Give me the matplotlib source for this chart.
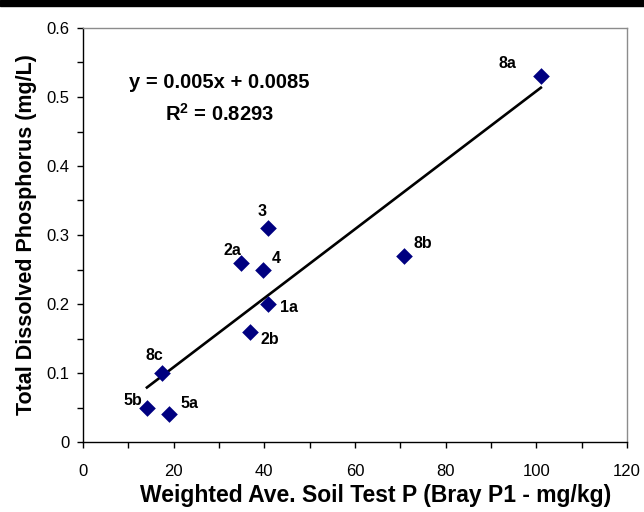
import matplotlib
matplotlib.use("Agg")
import matplotlib.pyplot as plt
from matplotlib.ticker import MultipleLocator
from matplotlib.patches import Rectangle

plt.rcParams['font.family'] = ['Liberation Sans', 'DejaVu Sans']
plt.rcParams['mathtext.fontset'] = 'custom'
plt.rcParams['mathtext.rm'] = 'Liberation Sans'
plt.rcParams['mathtext.bf'] = 'Liberation Sans:bold'

# Data
site_labels = ["3", "2a", "4", "1a", "2b", "8c", "5b", "5a", "8b", "8a"]
soil_test_p = [40.7, 34.8, 39.8, 40.7, 36.9, 17.5, 14.1, 19.0, 70.7, 101.0]
tdp = [0.31, 0.26, 0.25, 0.20, 0.16, 0.10, 0.05, 0.04, 0.27, 0.53]
slope = 0.005
intercept = 0.0085
equation_text = "y = 0.005x + 0.0085"
r2_text = r"$\mathbf{R^2}$ = 0.8293"

# label offsets in pixels (dx, dy up)
label_offsets = {"3": (-5, 17), "2a": (-8, 12), "4": (13, 11), "1a": (21, -4),
                 "2b": (20, -8), "8c": (-8, 18), "5b": (-14, 7), "5a": (20, 11),
                 "8b": (19, 12), "8a": (-33, 13)}

fig = plt.figure(figsize=(6.44, 5.12), dpi=100)
ax = fig.add_axes([83/644, 1-442/512, 544/644, 414/512])

ax.scatter(soil_test_p, tdp, marker='D', s=72, color='#000080', zorder=3, linewidths=0)

xmin, xmax = min(soil_test_p), max(soil_test_p)
ax.plot([xmin, xmax], [slope*xmin + intercept, slope*xmax + intercept],
        color='black', lw=1.9, zorder=2)

for lab, x, y in zip(site_labels, soil_test_p, tdp):
    dx, dy = label_offsets[lab]
    ax.annotate(lab, (x, y), xytext=(dx, dy), textcoords='offset pixels',
                ha='center', va='center', fontsize=11.5, fontweight='bold')

ax.text(0.25, 0.854, equation_text, transform=ax.transAxes, ha='center', va='baseline',
        fontsize=14.5, fontweight='bold')
ax.text(0.25, 0.776, r2_text, transform=ax.transAxes, ha='center', va='baseline',
        fontsize=14.5, fontweight='bold')

ax.set_xlim(0, 120)
ax.set_ylim(0, 0.6)
ax.xaxis.set_major_locator(MultipleLocator(20))
ax.xaxis.set_minor_locator(MultipleLocator(10))
ax.set_yticks([0, 0.1, 0.2, 0.3, 0.4, 0.5, 0.6])
ax.set_yticklabels(['0', '0.1', '0.2', '0.3', '0.4', '0.5', '0.6'])
ax.yaxis.set_minor_locator(MultipleLocator(0.05))
ax.tick_params(which='both', direction='out', length=4.5, width=1, labelsize=12,
               top=False, right=False)
ax.tick_params(axis='x', pad=11)
ax.tick_params(axis='y', pad=5)

for s in ['left', 'bottom']:
    ax.spines[s].set_color('black')
    ax.spines[s].set_linewidth(1)
for s in ['top', 'right']:
    ax.spines[s].set_color('#8c8c8c')
    ax.spines[s].set_linewidth(1)

ax.set_xlabel("Weighted Ave. Soil Test P (Bray P1 - mg/kg)", fontsize=16.5, fontweight='bold', labelpad=4)
ax.xaxis.label.set_x(0.537)
ax.set_ylabel("Total Dissolved Phosphorus (mg/L)", fontsize=15.5, fontweight='bold', labelpad=7)

fig.patches.append(Rectangle((0, 1-6/512), 1, 6/512, transform=fig.transFigure,
                             color='black', zorder=10))

fig.savefig("out.png", dpi=100)
